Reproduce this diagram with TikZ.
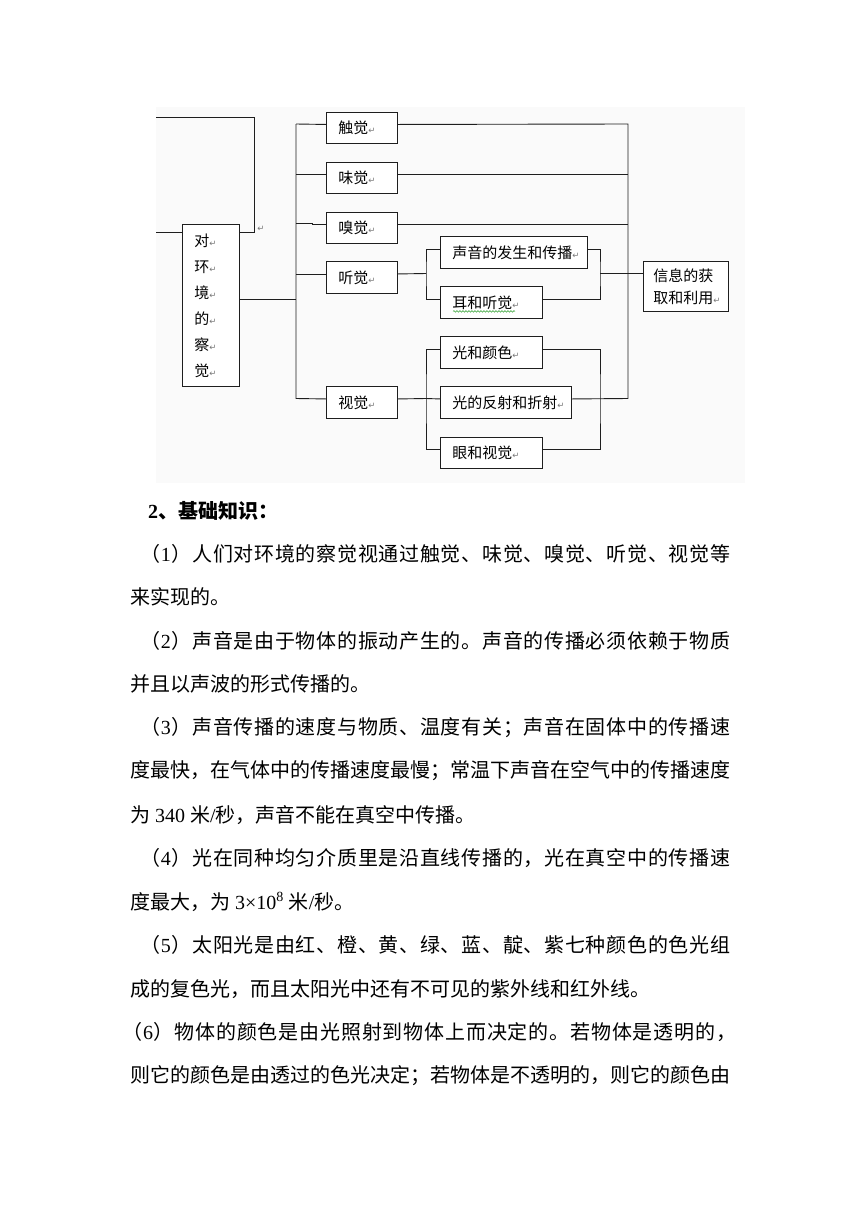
\documentclass[tikz,border=0pt]{standalone}
\usepackage{fontspec}
\usepackage{tikz}
\usetikzlibrary{decorations.pathmorphing}
\newfontfamily\cjk{Noto Sans CJK SC}
\newfontfamily\latfont{Liberation Serif}
\newfontfamily\dejavu{DejaVu Sans}
\definecolor{panelBg}{RGB}{250,250,250}
\definecolor{wireDark}{RGB}{30,30,30}
\definecolor{markGray}{RGB}{120,120,120}
\definecolor{squiggleGreen}{RGB}{70,170,70}
\newcommand{\retmark}{{\dejavu\fontsize{8.5}{8.5}\selectfont\textcolor{markGray}{↵}}}
\newcommand{\bodyfont}{\cjk\fontsize{20}{24}\selectfont}
% a justified line: equal glue between all characters
\makeatletter
\newcommand{\spreadline}[2]{\hbox to #1pt{\@tfor\spreadch:=#2\do{{\spreadch}\hskip 0pt plus 1fil\relax}\unskip}}
\makeatother
\tikzset{
  wire/.style={draw=wireDark, line width=0.9pt},
  lift/.style={yshift=3.5pt},
  box/.style={draw=wireDark, fill=white, line width=0.9pt, anchor=north west,
    inner xsep=12pt, inner ysep=0pt, align=left, font=\cjk\fontsize{15}{18}\selectfont},
  sense/.style={box, text width=47pt, minimum height=31pt},
  topic/.style={box, minimum height=32pt},
  retnode/.style={inner sep=0pt, font=\dejavu\fontsize{8.5}{8.5}\selectfont, text=markGray},
  para/.style={anchor=west, inner sep=0pt, font=\bodyfont},
  squiggle/.style={draw=squiggleGreen, line width=0.6pt, decorate,
    decoration={snake, amplitude=0.8pt, segment length=3pt}}
}
\begin{document}
\begin{tikzpicture}[x=1pt,y=-1pt]
\fill[white] (0,0) rectangle (860,1216);
\useasboundingbox (0,0) rectangle (860,1216);
\fill[panelBg] (156,107) rectangle (745,483);

% boxes
\node[box, text width=33pt, minimum height=162pt, font=\cjk\fontsize{15}{26}\selectfont] (env) at (182,224)
  {对\retmark\\环\retmark\\境\retmark\\的\retmark\\察\retmark\\觉\retmark};
\node[sense] (touch) at (326,112) {触觉\retmark};
\node[sense] (taste) at (326,162) {味觉\retmark};
\node[sense] (smell) at (326,212) {嗅觉\retmark};
\node[sense, minimum height=32pt] (hear) at (326,261) {听觉\retmark};
\node[sense, minimum height=32pt] (see) at (326,386) {视觉\retmark};
\node[topic, text width=123pt] (sound) at (440,236) {声音的发生和传播\retmark};
\node[topic, text width=78pt] (ear) at (440,286) {耳和听觉\retmark};
\node[topic, text width=78pt] (color) at (440,336) {光和颜色\retmark};
\node[topic, text width=107pt] (refl) at (440,386) {光的反射和折射\retmark};
\node[topic, text width=78pt, minimum height=31pt] (eye) at (440,437) {眼和视觉\retmark};
\node[box, inner xsep=10pt, text width=65pt, minimum height=50pt, font=\cjk\fontsize{15}{22}\selectfont] (info) at (643,261)
  {信息的获\\取和利用\retmark};
\draw[squiggle] ([xshift=13pt,yshift=7.5pt]ear.south west) -- ++(62,0);

% bus points
\coordinate (cutTop) at (156,117);
\coordinate (cutLow) at (156,232);
\coordinate (jog) at (254,232);
\coordinate (envOut) at (296,299);
\coordinate (lbusT) at (296,124);
\coordinate (lbusB) at (296,398.5);
\coordinate (rbusT) at (628,124);
\coordinate (rbusB) at (628,398.5);
\coordinate (sbusL) at (426,273.5);
\coordinate (sbusR) at (600,273.5);
\coordinate (vbusL) at (426,398.5);
\coordinate (vbusR) at (600,398.5);

% connectors
\draw[wire] (cutTop) -| (jog) -- (jog -| env.east);
\draw[wire] (cutLow) -- (cutLow -| env.west);
\node[retnode] (jogmark) at (261,229) {↵};
\draw[wire] (envOut -| env.east) -- (envOut);
\draw[wire] (lbusT) -- (lbusB) -- ([lift]see.west);
\draw[wire] (lbusT) -- ([lift]touch.west);
\draw[wire] ([lift]taste.west) -- ([lift]taste.west -| lbusT);
\draw[wire] ([lift]smell.west) -- ++(-14,0) -- ++(0,-1.5) -- ++(-16,0);
\draw[wire] ([lift]hear.west) -- ([lift]hear.west -| lbusT);
\draw[wire] ([lift]touch.east) -- (rbusT) -- (rbusB);
\draw[wire] ([lift]taste.east) -- ([lift]taste.east -| rbusT);
\draw[wire] ([lift]smell.east) -- ([lift]smell.east -| rbusT);
\draw[wire] ([lift]hear.east) -- (sbusL);
\draw[wire] ([lift]sound.west) -| (sbusL) |- ([lift]ear.west);
\draw[wire] ([lift]sound.east) -| (sbusR) |- ([lift]ear.east);
\draw[wire] (sbusR) -- (sbusR -| info.west);
\draw[wire] ([lift]see.east) -- (vbusL) -- ([lift]refl.west);
\draw[wire] ([lift]color.west) -| (vbusL) |- ([lift]eye.west);
\draw[wire] ([lift]color.east) -| (vbusR) |- ([lift]eye.east);
\draw[wire] ([lift]refl.east) -- (rbusB);

% text below
\node[para, font=\cjk\bfseries\fontsize{20}{24}\selectfont] (head) at (148,511) {{\latfont\bfseries 2}、基础知识：};
\node[para] (p1a) at (140,554) {\spreadline{590}{（{\latfont 1}）人们对环境的察觉视通过触觉、味觉、嗅觉、听觉、视觉等}};
\node[para] (p1b) at (130,597) {来实现的。};
\node[para] (p2a) at (140,641) {\spreadline{590}{（{\latfont 2}）声音是由于物体的振动产生的。声音的传播必须依赖于物质}};
\node[para] (p2b) at (130,684) {并且以声波的形式传播的。};
\node[para] (p3a) at (140,728) {\spreadline{590}{（{\latfont 3}）声音传播的速度与物质、温度有关；声音在固体中的传播速}};
\node[para] (p3b) at (130,771) {\spreadline{600}{度最快，在气体中的传播速度最慢；常温下声音在空气中的传播速度}};
\node[para] (p3c) at (130,815) {为{\latfont\ 340 }米{\latfont /}秒，声音不能在真空中传播。};
\node[para] (p4a) at (140,858) {\spreadline{590}{（{\latfont 4}）光在同种均匀介质里是沿直线传播的，光在真空中的传播速}};
\node[para] (p4b) at (130,902) {度最大，为{\latfont\ 3×10\textsuperscript{8} }米{\latfont /}秒。};
\node[para] (p5a) at (140,945) {\spreadline{590}{（{\latfont 5}）太阳光是由红、橙、黄、绿、蓝、靛、紫七种颜色的色光组}};
\node[para] (p5b) at (130,989) {成的复色光，而且太阳光中还有不可见的紫外线和红外线。};
\node[para] (p6a) at (122,1032) {\spreadline{614}{（{\latfont 6}）物体的颜色是由光照射到物体上而决定的。若物体是透明的，}};
\node[para] (p6b) at (130,1076) {\spreadline{600}{则它的颜色是由透过的色光决定；若物体是不透明的，则它的颜色由}};
\end{tikzpicture}
\end{document}
